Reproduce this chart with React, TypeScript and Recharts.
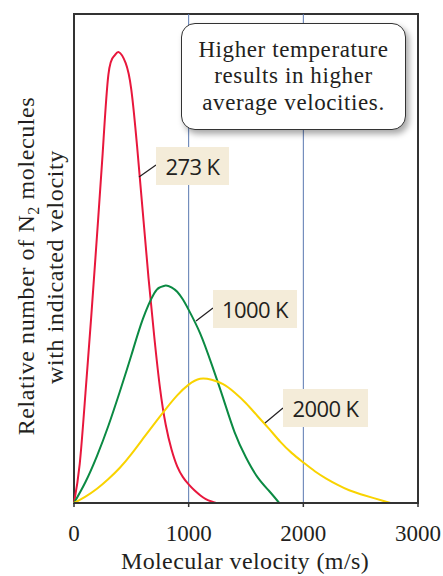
import { LineChart, Line, XAxis, YAxis, ReferenceLine, ReferenceArea } from 'recharts'

// velocities (m/s) and relative heights
const redVelocity = [0, 50, 100, 150, 200, 250, 300, 350, 390, 450, 500, 550, 600, 650, 700, 750, 800, 850, 900, 950, 1000, 1050, 1100, 1150, 1200, 1240]
const redValue = [0, 8, 22.5, 38, 54.5, 71.5, 87.6, 91.4, 92.2, 90, 84.5, 73, 59.5, 46, 34, 23.5, 16, 11, 7.5, 5.3, 3.8, 2.6, 1.6, 0.8, 0.3, 0]

const greenVelocity = [0, 100, 200, 300, 400, 500, 600, 700, 750, 800, 850, 900, 950, 1000, 1100, 1200, 1300, 1400, 1500, 1600, 1700, 1790]
const greenValue = [0, 4.3, 9.6, 15.8, 22.8, 30.2, 37.6, 42.9, 44.1, 44.5, 44.1, 43.2, 41.6, 39.5, 34.7, 28.4, 21.5, 14.5, 9.3, 5.3, 2.5, 0]

const yellowVelocity = [0, 100, 200, 300, 400, 500, 600, 700, 800, 900, 1000, 1100, 1200, 1300, 1400, 1500, 1600, 1700, 1800, 1900, 2000, 2100, 2200, 2300, 2400, 2500, 2600, 2700, 2760]
const yellowValue = [0, 1.3, 2.9, 4.9, 7.2, 10, 13.1, 16.2, 19.2, 22, 24.2, 25.4, 25.2, 24.3, 22.6, 20.4, 17.8, 15.2, 12.5, 10.2, 8.3, 6.5, 5, 3.7, 2.6, 1.8, 1.1, 0.4, 0]

const xTicks = [0, 1000, 2000, 3000]
const gridLines = [1000, 2000]

const toPoints = (xs: number[], ys: number[]) => xs.map((v, i) => ({ v, y: ys[i] }))

const serif = '"Liberation Serif", "DejaVu Serif", serif'
const sans = '"Open Sans", "Noto Sans", sans-serif'
const ink = '#231f20'

const tagStyle = (left: number, top: number, width: number): React.CSSProperties => ({
  position: 'absolute',
  left,
  top,
  width,
  height: 38,
  background: '#f4ecd9',
  fontFamily: sans,
  fontSize: 22,
  color: ink,
  display: 'flex',
  alignItems: 'center',
  justifyContent: 'center',
  letterSpacing: -0.6,
})

export default function App() {
  const red = toPoints(redVelocity, redValue)
  const green = toPoints(greenVelocity, greenValue)
  const yellow = toPoints(yellowVelocity, yellowValue)

  return (
    <div style={{ position: 'relative', width: 443, height: 576, background: '#fff', overflow: 'hidden' }}>
      <style>{'html, body { margin: 0; padding: 0; overflow: hidden; }'}</style>
      <LineChart width={443} height={576} margin={{ top: 14, right: 25, left: 74, bottom: 0 }}>
        <XAxis
          dataKey="v"
          type="number"
          domain={[0, 3000]}
          ticks={xTicks}
          height={73}
          allowDuplicatedCategory={false}
          axisLine={{ stroke: '#333', strokeWidth: 2 }}
          tickLine={{ stroke: '#333', strokeWidth: 1.5 }}
          tickSize={4}
          tick={{ fontFamily: serif, fontSize: 23, fill: ink, dy: 16 }}
        />
        <YAxis type="number" domain={[0, 100]} hide width={0} />
        {gridLines.map((g) => (
          <ReferenceLine key={g} x={g} stroke="#5a78b0" strokeWidth={1} />
        ))}
        <ReferenceArea x1={0} x2={3000} y1={0} y2={100} fill="none" fillOpacity={0} stroke="#333" strokeWidth={2} />
        <Line data={red} dataKey="y" type="natural" stroke="#e8173c" strokeWidth={2} dot={false} isAnimationActive={false} />
        <Line data={green} dataKey="y" type="natural" stroke="#0b8a43" strokeWidth={2} dot={false} isAnimationActive={false} />
        <Line data={yellow} dataKey="y" type="natural" stroke="#f9d300" strokeWidth={2} dot={false} isAnimationActive={false} />
      </LineChart>

      <svg width={443} height={576} style={{ position: 'absolute', left: 0, top: 0, pointerEvents: 'none' }}>
        <text transform="translate(34,266) rotate(-90)" textAnchor="middle" fontFamily={serif} fontSize={24} letterSpacing={0.6} fill={ink}>
          Relative number of N<tspan fontSize={16} dy={5}>2</tspan><tspan dy={-5}> molecules</tspan>
        </text>
        <text transform="translate(63,267) rotate(-90)" textAnchor="middle" fontFamily={serif} fontSize={24} letterSpacing={0.6} fill={ink}>
          with indicated velocity
        </text>
        <text x={245} y={569} textAnchor="middle" fontFamily={serif} fontSize={24} letterSpacing={0.4} fill={ink}>
          Molecular velocity (m/s)
        </text>
        <line x1={139} y1={177} x2={156} y2={165} stroke={ink} strokeWidth={1.2} />
        <line x1={196} y1={321} x2={213} y2={308} stroke={ink} strokeWidth={1.2} />
        <line x1={265} y1={423} x2={283} y2={408} stroke={ink} strokeWidth={1.2} />
      </svg>

      <div style={tagStyle(156, 147, 73)}>273 K</div>
      <div style={tagStyle(213, 290, 84)}>1000 K</div>
      <div style={tagStyle(283, 389, 85)}>2000 K</div>

      <div
        style={{
          position: 'absolute',
          left: 181,
          top: 23,
          width: 225,
          height: 107,
          boxSizing: 'border-box',
          border: '1.5px solid #333',
          borderRadius: 14,
          background: '#fff',
          boxShadow: '3px 4px 6px rgba(0,0,0,0.35)',
          fontFamily: serif,
          fontSize: 23,
          letterSpacing: 0.6,
          lineHeight: '26.5px',
          color: ink,
          textAlign: 'center',
          display: 'flex',
          flexDirection: 'column',
          justifyContent: 'center',
        }}
      >
        <div>Higher temperature</div>
        <div>results in higher</div>
        <div>average velocities.</div>
      </div>
    </div>
  )
}
